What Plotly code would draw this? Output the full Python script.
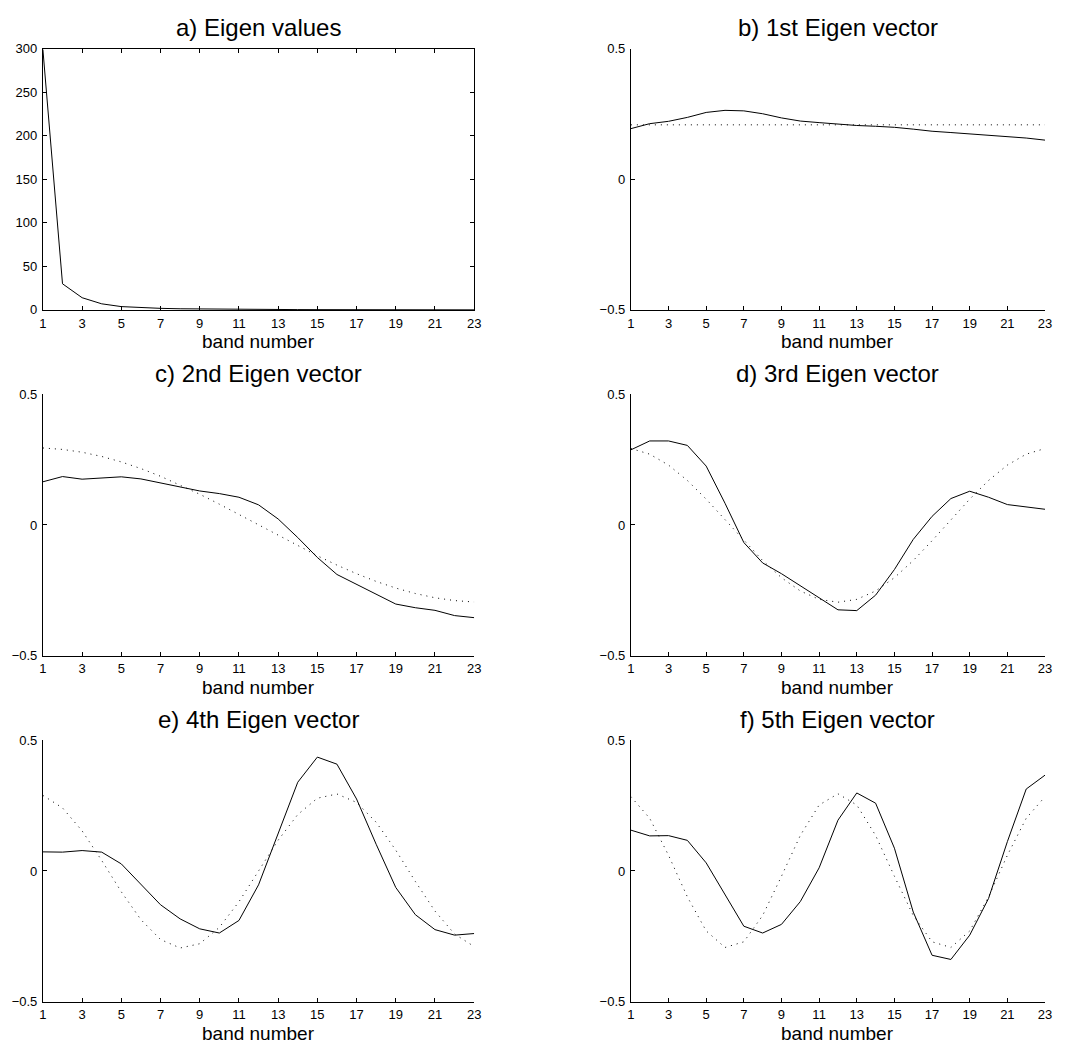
import plotly.graph_objects as go

# ---------------- data ----------------
bands = list(range(1, 24))
x_tick_vals = [1, 3, 5, 7, 9, 11, 13, 15, 17, 19, 21, 23]
eig_tick_vals = [0, 50, 100, 150, 200, 250, 300]
vec_tick_vals = [-0.5, 0, 0.5]

panel_titles = ["a) Eigen values", "b) 1st Eigen vector", "c) 2nd Eigen vector",
                "d) 3rd Eigen vector", "e) 4th Eigen vector", "f) 5th Eigen vector"]
x_label = "band number"

eigen_values = [299, 30, 14, 7, 3.8, 2.5, 1.8, 1.3, 1.0, 0.8, 0.6, 0.5, 0.4,
                0.35, 0.3, 0.25, 0.2, 0.18, 0.15, 0.12, 0.1, 0.08, 0.06]

vec1 = [0.194, 0.213, 0.222, 0.237, 0.256, 0.264, 0.262, 0.251, 0.235, 0.223, 0.217, 0.211,
        0.206, 0.203, 0.199, 0.192, 0.184, 0.179, 0.174, 0.167, 0.162, 0.158, 0.150]
vec2 = [0.165, 0.185, 0.175, 0.180, 0.184, 0.176, 0.160, 0.145, 0.130, 0.120, 0.106, 0.077,
        0.023, -0.048, -0.124, -0.189, -0.226, -0.264, -0.302, -0.316, -0.326, -0.346, -0.354]
vec3 = [0.287, 0.321, 0.321, 0.304, 0.225, 0.083, -0.067, -0.145, -0.186, -0.233, -0.280, -0.324,
        -0.327, -0.268, -0.170, -0.055, 0.033, 0.101, 0.129, 0.106, 0.078, 0.068, 0.060]
vec4 = [0.073, 0.072, 0.078, 0.072, 0.027, -0.051, -0.129, -0.183, -0.221, -0.237, -0.189, -0.053,
        0.140, 0.339, 0.435, 0.408, 0.275, 0.102, -0.063, -0.167, -0.224, -0.245, -0.239]
vec5 = [0.156, 0.134, 0.135, 0.117, 0.031, -0.091, -0.211, -0.237, -0.204, -0.117, 0.012, 0.194,
        0.298, 0.259, 0.087, -0.157, -0.322, -0.338, -0.245, -0.105, 0.112, 0.313, 0.366]

# dotted reference (cosine) curves
ref1 = [0.2085] * 23
ref2 = [0.2942, 0.2887, 0.2779, 0.2618, 0.2409, 0.2155, 0.1861, 0.1532, 0.1175, 0.0796, 0.0402, 0.0,
        -0.0402, -0.0796, -0.1175, -0.1532, -0.1861, -0.2155, -0.2409, -0.2618, -0.2779, -0.2887, -0.2942]
ref3 = [0.2922, 0.2705, 0.2288, 0.1701, 0.0988, 0.0201, -0.0600, -0.1357, -0.2012, -0.2520, -0.2840, -0.2949,
        -0.2840, -0.2520, -0.2012, -0.1357, -0.0600, 0.0201, 0.0988, 0.1701, 0.2288, 0.2705, 0.2922]
ref4 = [0.2887, 0.2409, 0.1532, 0.0402, -0.0796, -0.1861, -0.2618, -0.2942, -0.2779, -0.2155, -0.1175, 0.0,
        0.1175, 0.2155, 0.2779, 0.2942, 0.2618, 0.1861, 0.0796, -0.0402, -0.1532, -0.2409, -0.2887]
ref5 = [0.2840, 0.2012, 0.0600, -0.0988, -0.2288, -0.2922, -0.2705, -0.1701, -0.0201, 0.1357, 0.2520, 0.2949,
        0.2520, 0.1357, -0.0201, -0.1701, -0.2705, -0.2922, -0.2288, -0.0988, 0.0600, 0.2012, 0.2840]

solid_series = [eigen_values, vec1, vec2, vec3, vec4, vec5]
dotted_series = [None, ref1, ref2, ref3, ref4, ref5]

# ---------------- layout ----------------
W, H = 1084, 1050
col_px = [(39.3, 475.0), (633.3, 1051.7)]
row_px = [(42.3, 307.3), (392.7, 658.3), (743.7, 1009.3)]

FONT = "Liberation Sans, Arial, Helvetica, sans-serif"
fig = go.Figure()
annotations = []
layout = dict(
    width=W, height=H, margin=dict(l=0, r=0, t=0, b=0),
    paper_bgcolor="white", plot_bgcolor="white", showlegend=False,
    font=dict(family=FONT, color="black", size=13),
)

for i in range(6):
    r, c = divmod(i, 2)
    n = i + 1
    xa = "x" if n == 1 else f"x{n}"
    ya = "y" if n == 1 else f"y{n}"
    xl, xr = col_px[c]
    yt, yb = row_px[r]

    fig.add_trace(go.Scatter(x=bands, y=solid_series[i], mode="lines",
                             line=dict(color="black", width=1),
                             xaxis=xa, yaxis=ya, hoverinfo="skip"))
    if dotted_series[i] is not None:
        fig.add_trace(go.Scatter(x=bands, y=dotted_series[i], mode="lines",
                                 line=dict(color="black", width=1, dash="1px,5px"),
                                 xaxis=xa, yaxis=ya, hoverinfo="skip"))

    mirror = "ticks" if i == 0 else False
    layout["xaxis" if n == 1 else f"xaxis{n}"] = dict(
        domain=[xl / W, xr / W], anchor=ya, range=[1, 23],
        tickvals=x_tick_vals, ticks="inside", ticklen=4, tickcolor="black",
        showline=True, linecolor="black", linewidth=1, mirror=mirror,
        showgrid=False, zeroline=False, tickfont=dict(size=13, color="black"),
        ticklabelstandoff=1,
    )
    layout["yaxis" if n == 1 else f"yaxis{n}"] = dict(
        domain=[1 - yb / H, 1 - yt / H], anchor=xa,
        range=[0, 300] if i == 0 else [-0.5, 0.5],
        tickvals=eig_tick_vals if i == 0 else vec_tick_vals,
        ticks="inside", ticklen=4, tickcolor="black",
        showline=True, linecolor="black", linewidth=1, mirror=mirror,
        showgrid=False, zeroline=False, tickfont=dict(size=13, color="black"),
        ticklabelstandoff=2,
    )
    xc = (xl + xr) / 2 / W
    annotations.append(dict(text=panel_titles[i], x=xc, y=1 - (yt - 21) / H,
                            xref="paper", yref="paper", xanchor="center", yanchor="middle",
                            showarrow=False, font=dict(size=24, color="black", family=FONT)))
    annotations.append(dict(text=x_label, x=xc, y=1 - (yb + 32) / H,
                            xref="paper", yref="paper", xanchor="center", yanchor="middle",
                            showarrow=False, font=dict(size=19, color="black", family=FONT)))

layout["annotations"] = annotations
fig.update_layout(**layout)
fig.write_html("out.html")
